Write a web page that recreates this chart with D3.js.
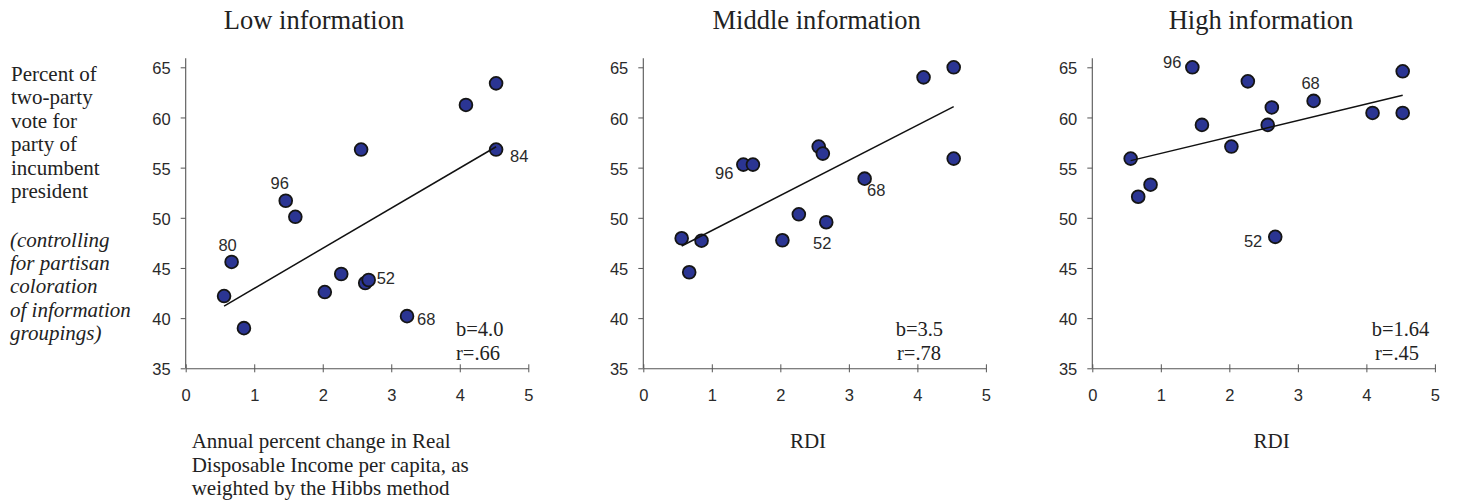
<!DOCTYPE html>
<html>
<head>
<meta charset="utf-8">
<script src="https://cdn.jsdelivr.net/npm/d3@7"></script>
<style>
  html, body { margin: 0; padding: 0; background: #fff; }
  svg { display: block; }
  .serif { font-family: "Liberation Serif", "Times New Roman", Times, serif; fill: #222; }
  .sans { font-family: "Liberation Sans", Arial, Helvetica, sans-serif; fill: #2a2a2a; }
</style>
</head>
<body>
<svg id="chart" width="1457" height="504"></svg>
<script>
// Panel titles and regression summaries
const panelTitles = ["Low information", "Middle information", "High information"];
const slopeValues = [4.0, 3.5, 1.64];
const interceptValues = [38.96, 45.23, 54.78];
const slopeLabels = ["b=4.0", "b=3.5", "b=1.64"];
const corrLabels = ["r=.66", "r=.78", "r=.45"];

// Election-year RDI growth (shared x values), in the same order for every panel
const rdi = [0.56, 0.67, 0.85, 1.46, 1.60, 2.03, 2.27, 2.56, 2.62, 2.67, 3.23, 4.09, 4.53, 4.53];
const years = ["", "80", "", "96", "", "", "", "", "", "52", "68", "", "", "84"];

// Incumbent-party vote share by information group
const voteLow    = [42.2, 45.6, 39.0, 51.7, 50.1, 42.6, 44.4, 56.8, 43.5, 43.8, 40.2, 61.25, 63.4, 56.8];
const voteMiddle = [47.96, 44.57, 47.72, 55.3, 55.3, 47.76, 50.35, 57.1, 56.4, 49.56, 53.9, 64.0, 65.0, 55.9];
const voteHigh   = [55.9, 52.1, 53.3, 65.0, 59.26, 57.1, 63.6, 59.26, 61.0, 48.1, 61.65, 60.45, 64.6, 60.45];

// Year labels shown in each panel
const shownYears = [["80", "96", "52", "68", "84"], ["96", "52", "68"], ["96", "68", "52"]];

const xTicks = [0, 1, 2, 3, 4, 5];
const yTicks = [35, 40, 45, 50, 55, 60, 65];

// ---- layout ----
const panelLeft = [185.7, 643.3, 1092.3];
const panelWidth = 342.6;
const plotTop = 67.3, plotBottom = 368.3;
const titleCenters = [314, 816.7, 1261];

// label placement relative to each point: [anchor, dx, dy]
const yearPlacement = [
  { "80": ["middle", -4, -10.6], "96": ["middle", -6, -11.5], "52": ["start", 8, 3.5], "68": ["start", 10, 9], "84": ["start", 14, 12] },
  { "96": ["end", -10, 14], "52": ["middle", -4, 26.7], "68": ["start", 2.4, 17.7] },
  { "96": ["end", -11, 1], "68": ["middle", -3, -11.7], "52": ["end", -13, 10] }
];
// b / r annotation left offsets inside each panel
const statOffsets = [[270.3, 270.3], [252.4, 253.7], [279.4, 282.7]];

const votes = [voteLow, voteMiddle, voteHigh];
const svg = d3.select("#chart");
const tickFont = "16.5px";

votes.forEach((vote, p) => {
  const x = d3.scaleLinear().domain([0, 5]).range([panelLeft[p], panelLeft[p] + panelWidth]);
  const y = d3.scaleLinear().domain([35, 65]).range([plotBottom, plotTop]);
  const g = svg.append("g");

  // title
  g.append("text").attr("class", "serif")
    .attr("x", titleCenters[p]).attr("y", 29)
    .attr("text-anchor", "middle").style("font-size", "26.5px")
    .text(panelTitles[p]);

  // y axis
  const yAxis = d3.axisLeft(y).tickValues(yTicks).tickFormat(d3.format("d"))
    .tickSizeInner(5).tickSizeOuter(0).tickPadding(10);
  const ya = g.append("g").attr("transform", `translate(${x(0)},0)`).call(yAxis);
  ya.select(".domain").remove();
  ya.selectAll(".tick line").attr("stroke", "#555");
  ya.selectAll(".tick text").attr("class", "sans").attr("fill", null)
    .style("font-size", tickFont).attr("dy", "0.4em");
  g.append("line")
    .attr("x1", x(0)).attr("x2", x(0))
    .attr("y1", y(35)).attr("y2", y(65.9))
    .attr("stroke", "#555").attr("stroke-width", 1.1);

  // x axis with ticks crossing the line
  const xAxis = d3.axisBottom(x).tickValues(xTicks).tickFormat(d3.format("d"))
    .tickSizeInner(4).tickSizeOuter(0).tickPadding(17);
  const xa = g.append("g").attr("transform", `translate(0,${y(35)})`).call(xAxis);
  xa.select(".domain").attr("stroke", "#555").attr("stroke-width", 1.1);
  xa.selectAll(".tick line").attr("stroke", "#555").attr("y1", -4).attr("y2", 4);
  xa.selectAll(".tick text").attr("class", "sans").attr("fill", null).style("font-size", tickFont);

  // points
  g.selectAll("circle.pt").data(rdi.map((r, i) => ({ r, v: vote[i] })))
    .join("circle").attr("class", "pt")
    .attr("cx", d => x(d.r)).attr("cy", d => y(d.v)).attr("r", 6.4)
    .attr("fill", "#2b3593").attr("stroke", "#151515").attr("stroke-width", 1.8);

  // regression line over the data range
  const [xmin, xmax] = d3.extent(rdi);
  const fit = t => interceptValues[p] + slopeValues[p] * t;
  g.append("line")
    .attr("x1", x(xmin)).attr("y1", y(fit(xmin)))
    .attr("x2", x(xmax)).attr("y2", y(fit(xmax)))
    .attr("stroke", "#111").attr("stroke-width", 1.5);

  // year labels
  years.forEach((yr, i) => {
    if (!yr || !shownYears[p].includes(yr)) return;
    const [anchor, dx, dy] = yearPlacement[p][yr];
    g.append("text").attr("class", "sans")
      .attr("x", x(rdi[i]) + dx).attr("y", y(vote[i]) + dy)
      .attr("text-anchor", anchor).style("font-size", tickFont)
      .text(yr);
  });

  // b and r annotations
  g.append("text").attr("class", "serif").style("font-size", "20.5px")
    .attr("x", panelLeft[p] + statOffsets[p][0]).attr("y", 335.5).text(slopeLabels[p]);
  g.append("text").attr("class", "serif").style("font-size", "20.5px")
    .attr("x", panelLeft[p] + statOffsets[p][1]).attr("y", 360).text(corrLabels[p]);
});

// y-axis description on the left
const yDesc = ["Percent of", "two-party", "vote for", "party of", "incumbent", "president"];
const yNote = ["(controlling", "for partisan", "coloration", "of information", "groupings)"];
svg.append("g").selectAll("text").data(yDesc).join("text")
  .attr("class", "serif").style("font-size", "21px")
  .attr("x", 11).attr("y", (d, i) => 81 + i * 23.45).text(d => d);
svg.append("g").selectAll("text").data(yNote).join("text")
  .attr("class", "serif").style("font-size", "21px").style("font-style", "italic")
  .attr("x", 10).attr("y", (d, i) => 246.7 + i * 23.3).text(d => d);

// x-axis descriptions
const xDesc = ["Annual percent change in Real", "Disposable Income per capita, as", "weighted by the Hibbs method"];
svg.append("g").selectAll("text").data(xDesc).join("text")
  .attr("class", "serif").style("font-size", "21px")
  .attr("x", 191.7).attr("y", (d, i) => 448.3 + i * 23.35).text(d => d);
[808, 1271.7].forEach(cx => {
  svg.append("text").attr("class", "serif").style("font-size", "21px")
    .attr("x", cx).attr("y", 448.3).attr("text-anchor", "middle").text("RDI");
});
</script>
</body>
</html>
